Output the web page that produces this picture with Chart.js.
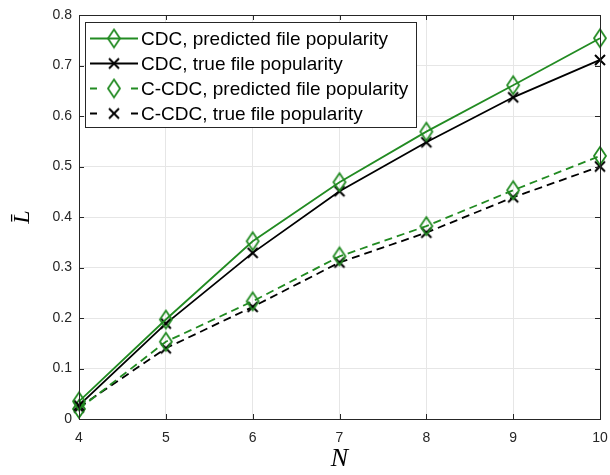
<!DOCTYPE html>
<html>
<head>
<meta charset="utf-8">
<script src="https://cdn.jsdelivr.net/npm/chart.js@4/dist/chart.umd.min.js"></script>
<style>
    html, body { margin: 0; padding: 0; background: #fff; }
    canvas { display: block; }
</style>
</head>
<body>
<canvas id="chartCanvas" width="610" height="475"></canvas>
<script>
var nValues = [4, 5, 6, 7, 8, 9, 10];
var cdcPredicted = [0.035, 0.197, 0.352, 0.469, 0.569, 0.661, 0.754];
var cdcTrue = [0.027, 0.189, 0.329, 0.451, 0.548, 0.637, 0.711];
var ccdcPredicted = [0.020, 0.153, 0.233, 0.322, 0.382, 0.453, 0.521];
var ccdcTrue = [0.023, 0.140, 0.222, 0.310, 0.369, 0.439, 0.500];
var yTicks = [0, 0.1, 0.2, 0.3, 0.4, 0.5, 0.6, 0.7, 0.8];
var seriesLabels = [
    'CDC, predicted file popularity',
    'CDC, true file popularity',
    'C-CDC, predicted file popularity',
    'C-CDC, true file popularity'
];

var green = '#228B22';
var black = '#000000';
var axisColor = '#262626';
var tickFont = '"Liberation Sans", Arial, sans-serif';
var serifFont = '"Liberation Serif", "DejaVu Serif", serif';

// marker images (MATLAB style diamond and x)
function makeDiamond(color) {
    var c = document.createElement('canvas');
    c.width = 16; c.height = 22;
    var g = c.getContext('2d');
    g.strokeStyle = color;
    g.lineWidth = 1.8;
    g.beginPath();
    g.moveTo(8, 2); g.lineTo(14, 11); g.lineTo(8, 20); g.lineTo(2, 11);
    g.closePath();
    g.stroke();
    return c;
}
function makeCross(color) {
    var c = document.createElement('canvas');
    c.width = 14; c.height = 14;
    var g = c.getContext('2d');
    g.strokeStyle = color;
    g.lineWidth = 2;
    g.beginPath();
    g.moveTo(2, 2); g.lineTo(12, 12);
    g.moveTo(12, 2); g.lineTo(2, 12);
    g.stroke();
    return c;
}
var diamondMark = makeDiamond(green);
var crossMark = makeCross(black);

function toPoints(ys) {
    return nValues.map(function (n, i) { return { x: n, y: ys[i] }; });
}

var seriesData = [cdcPredicted, cdcTrue, ccdcPredicted, ccdcTrue];
var seriesColors = [green, black, green, black];
var seriesMarks = [diamondMark, crossMark, diamondMark, crossMark];
var seriesDash = [[], [], [8, 5], [8, 5]];

var datasets = seriesData.map(function (ys, i) {
    return {
        label: seriesLabels[i],
        data: toPoints(ys),
        borderColor: seriesColors[i],
        backgroundColor: 'rgba(0,0,0,0)',
        borderWidth: 1.8,
        borderDash: seriesDash[i],
        pointStyle: seriesMarks[i],
        pointRadius: 8,
        pointHoverRadius: 8,
        tension: 0,
        clip: false
    };
});

// axes box with inward ticks, MATLAB look
var boxPlugin = {
    id: 'boxPlugin',
    afterDatasetsDraw: function (chart) {
        var ctx = chart.ctx, a = chart.chartArea;
        var xs = chart.scales.x, ys = chart.scales.y;
        ctx.save();
        ctx.strokeStyle = axisColor;
        ctx.lineWidth = 1;
        ctx.strokeRect(Math.round(a.left) + 0.5, Math.round(a.top) + 0.5,
            Math.round(a.right - a.left), Math.round(a.bottom - a.top));
        ctx.beginPath();
        nValues.forEach(function (n) {
            var px = Math.round(xs.getPixelForValue(n)) + 0.5;
            ctx.moveTo(px, a.bottom); ctx.lineTo(px, a.bottom - 5);
            ctx.moveTo(px, a.top); ctx.lineTo(px, a.top + 5);
        });
        yTicks.forEach(function (v) {
            var py = Math.round(ys.getPixelForValue(v)) + 0.5;
            ctx.moveTo(a.left, py); ctx.lineTo(a.left + 5, py);
            ctx.moveTo(a.right, py); ctx.lineTo(a.right - 5, py);
        });
        ctx.stroke();
        ctx.restore();
    }
};

// y axis label: italic L with a bar, drawn rotated
var yLabelPlugin = {
    id: 'yLabel',
    afterDraw: function (chart) {
        var ctx = chart.ctx;
        ctx.save();
        ctx.translate(21, 217);
        ctx.rotate(-Math.PI / 2);
        ctx.font = 'italic 24px ' + serifFont;
        ctx.fillStyle = '#000';
        ctx.textAlign = 'center';
        ctx.textBaseline = 'alphabetic';
        ctx.fillText('L\u0304', 0, 8);
        ctx.restore();
    }
};

// legend box inside the axes, top left
var legendPlugin = {
    id: 'insideLegend',
    afterDraw: function (chart) {
        var ctx = chart.ctx;
        var bx = 85.5, by = 22.5, bw = 331, bh = 105;
        ctx.save();
        ctx.fillStyle = '#fff';
        ctx.fillRect(bx, by, bw, bh);
        ctx.strokeStyle = axisColor;
        ctx.lineWidth = 1;
        ctx.strokeRect(bx, by, bw, bh);
        ctx.font = '19px ' + tickFont;
        ctx.textBaseline = 'middle';
        chart.data.datasets.forEach(function (ds, i) {
            var y = 38.5 + i * 25;
            ctx.strokeStyle = ds.borderColor;
            ctx.lineWidth = 1.8;
            ctx.beginPath();
            if (ds.borderDash.length) {
                ctx.moveTo(90, y); ctx.lineTo(97, y);
                ctx.moveTo(131, y); ctx.lineTo(138, y);
            } else {
                ctx.moveTo(90, y); ctx.lineTo(138, y);
            }
            ctx.stroke();
            var m = ds.pointStyle;
            ctx.drawImage(m, 114 - m.width / 2, y - m.height / 2);
            ctx.fillStyle = '#000';
            ctx.fillText(ds.label, 141, y + 1);
        });
        ctx.restore();
    }
};

var ctx = document.getElementById('chartCanvas').getContext('2d');
var myChart = new Chart(ctx, {
    type: 'line',
    data: { datasets: datasets },
    options: {
        responsive: false,
        animation: false,
        events: [],
        layout: { padding: { left: 0, right: 10, top: 15, bottom: 0 } },
        scales: {
            x: {
                type: 'linear',
                min: 4,
                max: 10,
                afterBuildTicks: function (scale) {
                    scale.ticks = nValues.map(function (v) { return { value: v }; });
                },
                afterFit: function (scale) {
                    scale.height = 56;
                    scale.paddingLeft = 0;
                    scale.paddingRight = 0;
                },
                grid: { color: '#e6e6e6', lineWidth: 1, drawTicks: false },
                border: { display: false },
                ticks: {
                    color: axisColor,
                    font: { family: tickFont, size: 14 },
                    padding: 11,
                    maxRotation: 0
                },
                title: {
                    display: true,
                    text: 'N',
                    color: '#000',
                    font: { family: serifFont, size: 26, style: 'italic' },
                    padding: { top: 0, bottom: 0 }
                }
            },
            y: {
                min: 0,
                max: 0.8,
                afterBuildTicks: function (scale) {
                    scale.ticks = yTicks.map(function (v) { return { value: v }; });
                },
                afterFit: function (scale) {
                    scale.width = 79;
                    scale.paddingTop = 0;
                    scale.paddingBottom = 0;
                },
                grid: { color: '#e6e6e6', lineWidth: 1, drawTicks: false },
                border: { display: false },
                ticks: {
                    color: axisColor,
                    font: { family: tickFont, size: 14 },
                    padding: 7,
                    callback: function (v) { return v === 0 ? '0' : v.toFixed(1); }
                }
            }
        },
        plugins: {
            legend: { display: false },
            tooltip: { enabled: false }
        }
    },
    plugins: [boxPlugin, yLabelPlugin, legendPlugin]
});
</script>
</body>
</html>
